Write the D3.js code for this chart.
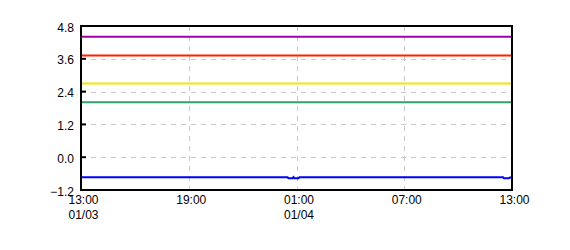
<!DOCTYPE html>
<html>
<head>
<meta charset="utf-8">
<script src="https://cdn.jsdelivr.net/npm/d3@7"></script>
<style>
  body { margin: 0; background: #fff; }
  svg { display: block; font-family: 'Liberation Sans', Arial, sans-serif; }
</style>
</head>
<body>
<div class="viz"></div>
<script>
// time span and ticks of the horizontal axis
const timeStart = '2024-01-03T13:00';
const timeEnd = '2024-01-04T13:00';
const xTicks = ['2024-01-03T13:00', '2024-01-03T19:00', '2024-01-04T01:00', '2024-01-04T07:00', '2024-01-04T13:00'];
const yTicks = [-1.2, 0.0, 1.2, 2.4, 3.6, 4.8];

// flat levels, drawn across the whole span
const levelNames = ['purple', 'red', 'yellow', 'green'];
const levelValues = [4.41, 3.72, 2.7, 2.01];
const levelColors = ['#a000a8', '#ff2000', '#f0e800', '#30a070'];

// the measured series, with its two small dips
const blueTimes = ['2024-01-03T13:00', '2024-01-04T00:30', '2024-01-04T00:33', '2024-01-04T00:47', '2024-01-04T00:50',
  '2024-01-04T00:53', '2024-01-04T01:07', '2024-01-04T01:10', '2024-01-04T12:30', '2024-01-04T12:33',
  '2024-01-04T12:50', '2024-01-04T12:53', '2024-01-04T13:00'];
const blueValues = [-0.73, -0.73, -0.77, -0.77, -0.73, -0.77, -0.77, -0.73, -0.73, -0.77, -0.77, -0.74, -0.74];

const parse = d3.timeParse('%Y-%m-%dT%H:%M');

const margin = { top: 26, right: 58, bottom: 60, left: 81 };
const width = 570 - (margin.left + margin.right);
const height = 250 - (margin.top + margin.bottom);

const svg = d3.select('.viz')
  .append('svg')
  .attr('width', 570)
  .attr('height', 250);

const group = svg.append('g')
  .attr('transform', `translate(${margin.left} ${margin.top})`);

const xScale = d3.scaleTime()
  .domain([parse(timeStart), parse(timeEnd)])
  .range([0, width]);

const yScale = d3.scaleLinear()
  .domain([yTicks[0], yTicks[yTicks.length - 1]])
  .range([height, 0]);

// dashed grid, only for the inner ticks
const innerX = xTicks.slice(1, -1).map(parse);
const innerY = yTicks.slice(1, -1);

group.append('g')
  .selectAll('line')
  .data(innerX)
  .enter()
  .append('line')
  .attr('x1', d => Math.round(xScale(d)) + 0.5)
  .attr('x2', d => Math.round(xScale(d)) + 0.5)
  .attr('y1', 0)
  .attr('y2', height)
  .attr('stroke', '#c8c8c8')
  .attr('stroke-dasharray', '5 5');

group.append('g')
  .selectAll('line')
  .data(innerY)
  .enter()
  .append('line')
  .attr('x1', 0)
  .attr('x2', width)
  .attr('y1', d => Math.round(yScale(d)) + 0.5)
  .attr('y2', d => Math.round(yScale(d)) + 0.5)
  .attr('stroke', '#c8c8c8')
  .attr('stroke-dasharray', '5 5');

// flat level lines
const line = d3.line()
  .x(d => xScale(d.t))
  .y(d => yScale(d.v));

group.append('g')
  .selectAll('path')
  .data(levelValues.map((v, i) => ({
    name: levelNames[i],
    color: levelColors[i],
    points: [{ t: parse(timeStart), v }, { t: parse(timeEnd), v }],
  })))
  .enter()
  .append('path')
  .attr('d', d => line(d.points))
  .attr('fill', 'none')
  .attr('stroke', d => d.color)
  .attr('stroke-width', 2);

group.append('path')
  .attr('d', line(blueTimes.map((t, i) => ({ t: parse(t), v: blueValues[i] }))))
  .attr('fill', 'none')
  .attr('stroke', '#0000ff')
  .attr('stroke-width', 2);

// y axis: labels on the left, short ticks drawn inside the frame
const yAxis = d3.axisLeft(yScale)
  .tickValues(yTicks)
  .tickSize(0)
  .tickPadding(7)
  .tickFormat(d3.format('.1f'));

const yAxisGroup = group.append('g')
  .attr('class', 'axis y-axis')
  .call(yAxis);

yAxisGroup.select('.domain').remove();
yAxisGroup.selectAll('text')
  .attr('font-size', 12)
  .attr('fill', '#000')
  .attr('dy', '0.42em');

group.append('g')
  .selectAll('line')
  .data(innerY)
  .enter()
  .append('line')
  .attr('x1', 0)
  .attr('x2', 5)
  .attr('y1', d => yScale(d))
  .attr('y2', d => yScale(d))
  .attr('stroke', '#000')
  .attr('stroke-width', 2);

// x axis: time, with the date under the first tick of each day
const xAxis = d3.axisBottom(xScale)
  .tickValues(xTicks.map(parse))
  .tickSize(0)
  .tickPadding(0)
  .tickFormat(d3.timeFormat('%H:%M'));

const xAxisGroup = group.append('g')
  .attr('class', 'axis x-axis')
  .attr('transform', `translate(0 ${height})`)
  .call(xAxis);

xAxisGroup.select('.domain').remove();
xAxisGroup.selectAll('text')
  .attr('font-size', 12)
  .attr('fill', '#000')
  .attr('x', 2)
  .attr('y', 14)
  .attr('dy', 0);

let lastDay = null;
xAxisGroup.selectAll('g.tick')
  .each(function (d) {
    const day = d3.timeFormat('%m/%d')(d);
    if (day !== lastDay) {
      d3.select(this)
        .append('text')
        .attr('font-size', 12)
        .attr('fill', '#000')
        .attr('x', 2)
        .attr('y', 29)
        .text(day);
    }
    lastDay = day;
  });

// frame around the plot
group.append('rect')
  .attr('x', 0)
  .attr('y', 0)
  .attr('width', width)
  .attr('height', height)
  .attr('fill', 'none')
  .attr('stroke', '#000')
  .attr('stroke-width', 2);
</script>
</body>
</html>
